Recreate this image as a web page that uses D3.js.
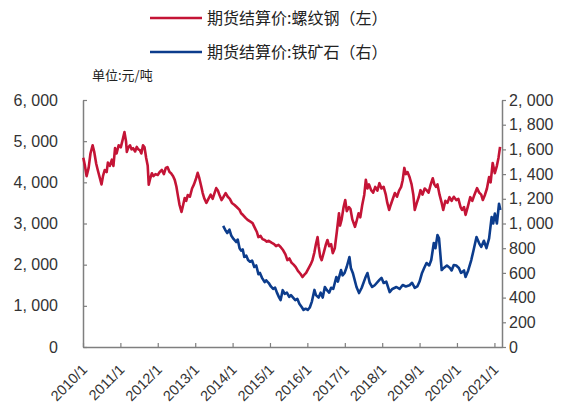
<!DOCTYPE html>
<html>
<head>
<meta charset="utf-8">
<script src="https://cdn.jsdelivr.net/npm/d3@7"></script>
<style>
  html, body { margin: 0; padding: 0; background: #fff; }
  svg { display: block; }
</style>
</head>
<body>
<div id="chart"></div>
<script>
// 期货结算价：螺纹钢 (元/吨, 左轴)
const rebarDates = [
  "2010-01-04","2010-01-20","2010-02-05","2010-02-25","2010-03-15","2010-04-05","2010-04-20","2010-05-10",
  "2010-05-25","2010-06-15","2010-07-01","2010-07-15","2010-08-01","2010-08-20","2010-09-01","2010-09-20",
  "2010-10-10","2010-10-25","2010-11-10","2010-11-25","2010-12-15","2011-01-05","2011-01-25","2011-02-10",
  "2011-02-25","2011-03-05","2011-03-20","2011-04-05","2011-04-20","2011-05-05","2011-05-25","2011-06-10",
  "2011-06-25","2011-07-10","2011-07-25","2011-08-10","2011-08-25","2011-09-10","2011-09-25","2011-10-05",
  "2011-10-20","2011-11-05","2011-11-20","2011-12-10","2012-01-01","2012-01-20","2012-02-10","2012-03-01",
  "2012-03-20","2012-04-05","2012-04-25","2012-05-10","2012-05-30","2012-06-15","2012-07-01","2012-07-15",
  "2012-08-01","2012-08-20","2012-09-05","2012-09-20","2012-10-05","2012-10-20","2012-11-10","2012-12-01",
  "2012-12-20","2013-01-10","2013-01-25","2013-02-10","2013-03-01","2013-03-15","2013-04-01","2013-04-20",
  "2013-05-10","2013-06-01","2013-06-20","2013-07-10","2013-07-25","2013-08-10","2013-08-25","2013-09-15",
  "2013-10-05","2013-10-25","2013-11-15","2013-12-05","2013-12-25","2014-01-20","2014-02-10","2014-03-10",
  "2014-03-25","2014-04-15","2014-05-10","2014-06-01","2014-06-20","2014-07-15","2014-08-05","2014-08-25",
  "2014-09-10","2014-10-01","2014-10-20","2014-11-10","2014-12-01","2014-12-20","2015-01-20","2015-02-10",
  "2015-03-01","2015-03-25","2015-04-15","2015-05-10","2015-06-01","2015-06-20","2015-07-10","2015-07-30",
  "2015-08-20","2015-09-10","2015-10-01","2015-10-25","2015-11-15","2015-12-01","2015-12-20","2016-01-10",
  "2016-02-01","2016-02-20","2016-03-10","2016-03-25","2016-04-10","2016-04-20","2016-05-05","2016-05-20",
  "2016-06-10","2016-07-01","2016-07-15","2016-08-01","2016-08-20","2016-09-05","2016-09-25","2016-10-15",
  "2016-11-05","2016-11-15","2016-12-01","2016-12-20","2017-01-05","2017-01-20","2017-02-10","2017-02-25",
  "2017-03-15","2017-04-10","2017-04-25","2017-05-15","2017-06-01","2017-06-20","2017-07-10","2017-07-25",
  "2017-08-10","2017-08-25","2017-09-15","2017-10-05","2017-10-25","2017-11-15","2017-12-05","2017-12-25",
  "2018-01-15","2018-02-05","2018-02-20","2018-03-10","2018-03-25","2018-04-15","2018-05-05","2018-05-25",
  "2018-06-15","2018-07-05","2018-07-20","2018-08-05","2018-08-20","2018-09-05","2018-09-25","2018-10-15",
  "2018-11-01","2018-11-15","2018-12-05","2018-12-25","2019-01-10","2019-01-30","2019-02-20","2019-03-10",
  "2019-03-30","2019-04-20","2019-05-10","2019-05-25","2019-06-10","2019-06-25","2019-07-15","2019-08-05",
  "2019-08-20","2019-09-10","2019-09-30","2019-10-20","2019-11-10","2019-12-01","2019-12-25","2020-01-15",
  "2020-02-05","2020-02-20","2020-03-10","2020-03-25","2020-04-15","2020-05-10","2020-05-30","2020-06-20",
  "2020-07-15","2020-08-05","2020-08-25","2020-09-10","2020-10-01","2020-10-20","2020-11-10","2020-11-25",
  "2020-12-15","2021-01-05","2021-01-25","2021-02-10","2021-02-25"
];
const rebarValues = [
  4600,4400,4150,4350,4700,4900,4750,4450,
  4300,4100,3950,4150,4300,4250,4480,4400,
  4550,4400,4830,4700,4900,4850,5050,5220,
  5000,4740,4850,4900,4800,4830,4750,4860,
  4800,4780,4700,4900,4850,4590,4400,3940,
  4100,4220,4150,4200,4180,4250,4300,4200,
  4350,4370,4250,4220,4150,4060,3900,3690,
  3450,3280,3450,3620,3550,3690,3650,3850,
  3950,4100,4230,4100,3900,3740,3600,3500,
  3600,3700,3600,3750,3860,3800,3700,3570,
  3650,3740,3650,3600,3500,3450,3400,3330,
  3250,3200,3130,3080,3050,3010,2900,2800,
  2670,2700,2620,2600,2560,2580,2530,2500,
  2450,2480,2430,2350,2250,2110,2150,2050,
  2000,1940,1850,1780,1700,1750,1800,1900,
  2000,2110,2300,2500,2670,2450,2200,2110,
  2300,2500,2600,2450,2500,2280,2400,2800,
  3250,2950,3100,3400,3570,3300,3400,3350,
  3100,2920,3050,3250,3150,3450,3700,4060,
  3850,3950,3810,3750,3890,3800,3980,3850,
  3890,3700,3500,3330,3450,3600,3740,3650,
  3800,3890,4050,4350,4200,4250,4130,3950,
  3700,3330,3500,3650,3810,3700,3850,3810,
  3750,3950,4100,3950,3890,3950,3700,3500,
  3330,3550,3500,3640,3550,3650,3570,3600,
  3400,3330,3400,3210,3400,3640,3550,3700,
  3860,3750,3700,3570,3700,3850,4130,4000,
  4470,4220,4400,4600,4860
];

// 期货结算价：铁矿石 (元/吨, 右轴)
const oreDates = [
  "2013-10-01","2013-10-20","2013-11-10","2013-12-01","2013-12-20","2014-01-10","2014-02-05","2014-02-20",
  "2014-03-10","2014-03-25","2014-04-10","2014-04-25","2014-05-15","2014-06-01","2014-06-20","2014-07-10",
  "2014-08-01","2014-08-20","2014-09-10","2014-09-25","2014-10-15","2014-11-10","2014-11-25","2014-12-20",
  "2015-01-10","2015-02-01","2015-02-20","2015-03-10","2015-04-01","2015-04-15","2015-05-05","2015-05-25",
  "2015-06-15","2015-07-08","2015-07-25","2015-08-15","2015-09-05","2015-09-25","2015-10-15","2015-11-10",
  "2015-11-25","2015-12-15","2016-01-05","2016-01-25","2016-02-15","2016-03-10","2016-03-25","2016-04-20",
  "2016-05-10","2016-05-30","2016-06-20","2016-07-10","2016-08-01","2016-08-20","2016-09-10","2016-10-10",
  "2016-10-25","2016-11-25","2016-12-10","2016-12-30","2017-01-20","2017-02-15","2017-03-01","2017-03-20",
  "2017-04-25","2017-05-20","2017-06-15","2017-07-20","2017-08-10","2017-09-01","2017-09-25","2017-10-20",
  "2017-12-05","2017-12-25","2018-01-15","2018-02-10","2018-03-15","2018-04-10","2018-05-20","2018-06-20",
  "2018-07-20","2018-08-20","2018-09-25","2018-10-20","2018-11-15","2018-12-10","2019-01-01","2019-01-25",
  "2019-02-15","2019-03-10","2019-04-05","2019-04-25","2019-05-20","2019-06-05","2019-06-25","2019-07-10",
  "2019-08-05","2019-08-25","2019-09-25","2019-10-25","2019-11-10","2019-12-01","2019-12-25","2020-01-20",
  "2020-02-10","2020-03-10","2020-03-25","2020-04-20","2020-05-20","2020-06-10","2020-07-10","2020-08-05",
  "2020-08-25","2020-09-20","2020-10-15","2020-11-10","2020-12-05","2020-12-20","2021-01-05","2021-01-25",
  "2021-02-15","2021-02-28"
];
const oreValues = [
  980,950,923,950,900,875,850,870,
  800,780,790,729,740,704,690,700,
  648,660,590,600,560,526,540,518,
  490,470,480,440,400,380,460,430,
  440,405,420,400,380,390,350,320,
  300,310,300,320,370,462,420,400,
  440,400,486,460,440,480,470,567,
  530,623,580,600,650,729,640,600,
  486,437,480,560,599,520,486,500,
  543,560,518,530,445,470,486,470,
  502,490,500,520,478,490,530,600,
  640,680,660,704,842,800,907,880,
  623,640,660,640,620,664,660,640,
  600,620,567,620,704,780,891,840,
  810,860,800,880,1053,1000,1080,1000,
  1160,1110
];

const leftTicks = [0, 1000, 2000, 3000, 4000, 5000, 6000];
const rightTicks = [0, 200, 400, 600, 800, 1000, 1200, 1400, 1600, 1800, 2000];
const yearTicks = d3.range(2010, 2022);

const seriesNames = ["期货结算价:螺纹钢（左）", "期货结算价:铁矿石（右）"];
const unitLabel = "单位:元/吨";

const W = 571, H = 406;
const plot = { left: 83, right: 502, top: 100, bottom: 347 };
const red = "#C41436", blue = "#0C3C8C", axisColor = "#7f7f7f";
const numFont = "'Liberation Sans', Arial, sans-serif";
const cjkFont = "'Noto Sans CJK SC', 'Noto Sans', sans-serif";

const parse = d3.timeParse("%Y-%m-%d");
const rebar = rebarDates.map((d, i) => ({ date: parse(d), value: rebarValues[i] }));
const ore = oreDates.map((d, i) => ({ date: parse(d), value: oreValues[i] }));

const x = d3.scaleTime()
  .domain([new Date(2010, 0, 1), new Date(2021, 2, 16)])
  .range([plot.left, plot.right]);
const yL = d3.scaleLinear().domain([0, 6000]).range([plot.bottom, plot.top]);
const yR = d3.scaleLinear().domain([0, 2000]).range([plot.bottom, plot.top]);

const svg = d3.select("#chart").append("svg")
  .attr("width", W).attr("height", H);
svg.append("rect").attr("width", W).attr("height", H).attr("fill", "#fff");

const fmt = v => d3.format(",")(v).replace(",", ", ");

// left axis (ticks point into the plot)
const gL = svg.append("g")
  .attr("transform", `translate(${plot.left},0)`)
  .call(d3.axisLeft(yL).tickValues(leftTicks).tickSizeInner(-4).tickSizeOuter(0).tickPadding(25).tickFormat(fmt));

// right axis
const gR = svg.append("g")
  .attr("transform", `translate(${plot.right},0)`)
  .call(d3.axisRight(yR).tickValues(rightTicks).tickSizeInner(4).tickSizeOuter(0).tickPadding(3).tickFormat(fmt));

// bottom axis
const gX = svg.append("g")
  .attr("transform", `translate(0,${plot.bottom})`)
  .call(d3.axisBottom(x).tickValues(yearTicks.map(yr => new Date(yr, 0, 1)))
    .tickSizeInner(-4).tickSizeOuter(0).tickFormat(d => `${d.getFullYear()}/1`));

[gL, gR, gX].forEach(g => {
  g.selectAll(".domain").attr("stroke", axisColor).attr("stroke-width", 1.5);
  g.selectAll(".tick line").attr("stroke", axisColor).attr("stroke-width", 1.2);
  g.selectAll("text").attr("fill", "#333").style("font-family", numFont).style("font-size", "16px");
});

gX.selectAll("text")
  .attr("x", 0).attr("y", 0).attr("dy", "0.35em")
  .attr("text-anchor", "end")
  .style("font-size", "14.5px")
  .attr("transform", "translate(1,20) rotate(-45)");

// series lines
const lineL = d3.line().x(d => x(d.date)).y(d => yL(d.value));
const lineR = d3.line().x(d => x(d.date)).y(d => yR(d.value));

svg.append("path").datum(rebar)
  .attr("fill", "none").attr("stroke", red).attr("stroke-width", 2.6)
  .attr("stroke-linejoin", "round").attr("d", lineL);
svg.append("path").datum(ore)
  .attr("fill", "none").attr("stroke", blue).attr("stroke-width", 2.6)
  .attr("stroke-linejoin", "round").attr("d", lineR);

// legend
const legend = svg.append("g");
[red, blue].forEach((c, i) => {
  const ly = 18 + i * 34;
  legend.append("line")
    .attr("x1", 150).attr("x2", 202).attr("y1", ly).attr("y2", ly)
    .attr("stroke", c).attr("stroke-width", 2.6);
  legend.append("text")
    .attr("x", 207).attr("y", ly).attr("dy", "0.35em")
    .attr("fill", "#222").style("font-family", cjkFont).style("font-size", "16px")
    .text(seriesNames[i]);
});

svg.append("text")
  .attr("x", 92).attr("y", 75).attr("dy", "0.35em")
  .attr("fill", "#222").style("font-family", cjkFont).style("font-size", "13px")
  .text(unitLabel);
</script>
</body>
</html>
